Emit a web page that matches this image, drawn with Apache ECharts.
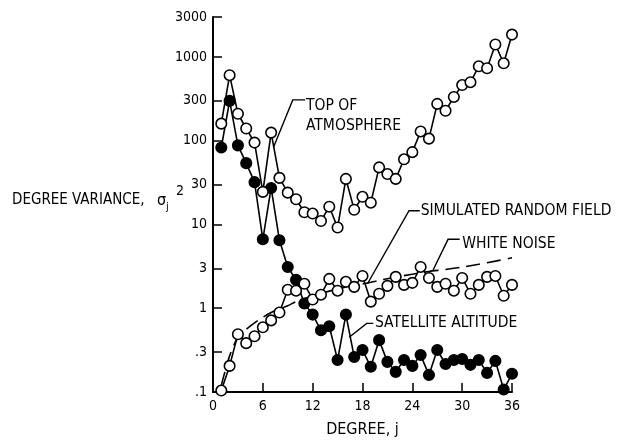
<!DOCTYPE html>
<html>
<head>
<meta charset="utf-8">
<script src="https://cdn.jsdelivr.net/npm/echarts@6/dist/echarts.min.js"></script>
<style>
  html, body { margin: 0; padding: 0; background: #fff; }
  #chart { width: 622px; height: 443px; }
</style>
</head>
<body>
<div id="chart"></div>
<script>
// Spherical-harmonic degree j and the degree variances of each field
const degrees = [1, 2, 3, 4, 5, 6, 7, 8, 9, 10, 11, 12, 13, 14, 15, 16, 17, 18,
                 19, 20, 21, 22, 23, 24, 25, 26, 27, 28, 29, 30, 31, 32, 33, 34, 35, 36];

const topOfAtmosphere = [160, 606, 210, 140, 95, 24.5, 125, 36, 24, 20, 14, 13.5,
                         11, 16.3, 9.2, 35, 15, 21.4, 18.2, 48, 40, 35, 60, 73,
                         129, 106, 275, 228, 333, 462, 500, 774, 733, 1408, 840, 1850];

const satelliteAltitude = [83, 299, 88, 54, 32, 6.65, 27.3, 6.47, 3.11, 2.18, 1.14, 0.84,
                           0.545, 0.61, 0.241, 0.84, 0.262, 0.317, 0.2, 0.416, 0.229, 0.174, 0.241, 0.205,
                           0.276, 0.16, 0.317, 0.216, 0.241, 0.248, 0.211, 0.241, 0.169, 0.235, 0.107, 0.165];

const simulatedRandomField = [0.104, 0.205, 0.489, 0.383, 0.463, 0.592, 0.716, 0.89, 1.66, 1.62, 1.96, 1.27,
                              1.45, 2.24, 1.62, 2.07, 1.80, 2.43, 1.2, 1.49, 1.85, 2.37, 1.90, 2.01,
                              3.11, 2.30, 1.80, 1.96, 1.62, 2.30, 1.49, 1.90, 2.37, 2.43, 1.41, 1.90];

const whiteNoiseDegrees = [1, 2, 3, 4, 5, 6, 7, 8, 9, 10, 12, 14, 16, 18, 20, 22, 24, 26, 28, 30, 32, 34, 36];
const whiteNoise = [0.12, 0.27, 0.45, 0.56, 0.67, 0.78, 0.89, 0.98, 1.07, 1.2, 1.4, 1.6,
                    1.8, 1.95, 2.15, 2.35, 2.55, 2.75, 2.9, 3.1, 3.35, 3.65, 4.0];

const xTicks = [0, 6, 12, 18, 24, 30, 36];
const yTicks = [0.1, 0.3, 1, 3, 10, 30, 100, 300, 1000, 3000];
const yTickLabels = ['.1', '.3', '1', '3', '10', '30', '100', '300', '1000', '3000'];

const FONT = "'DejaVu Sans Condensed', 'DejaVu Sans', sans-serif";
const INK = '#000';

function pairs(xs, ys) { return xs.map((x, i) => [x, ys[i]]); }

const chart = echarts.init(document.getElementById('chart'), null, { renderer: 'canvas' });

function markerSeries(name, values, filled) {
  return {
    name: name,
    type: 'line',
    data: pairs(degrees, values),
    symbol: 'circle',
    symbolSize: 10.5,
    showSymbol: true,
    animation: false,
    z: filled ? 3 : 4,
    lineStyle: { color: INK, width: 1.6 },
    itemStyle: { color: filled ? INK : '#fff', borderColor: INK, borderWidth: 1.6 }
  };
}

chart.setOption({
  animation: false,
  backgroundColor: '#fff',
  grid: { left: 213, right: 110, top: 17, bottom: 48, containLabel: false },
  xAxis: {
    type: 'value',
    min: 0, max: 36, interval: 6,
    axisLine: { show: true, lineStyle: { color: INK, width: 2 } },
    axisTick: { show: true, inside: true, length: 9, lineStyle: { color: INK, width: 1.5 },
                customValues: xTicks.slice(1) },
    axisLabel: { show: true, color: INK, fontFamily: FONT, fontSize: 14, margin: 7,
                 customValues: xTicks },
    splitLine: { show: false },
    name: 'DEGREE, j',
    nameLocation: 'middle',
    nameGap: 30,
    nameTextStyle: { color: INK, fontFamily: FONT, fontSize: 16 }
  },
  yAxis: {
    type: 'log',
    logBase: 10,
    min: 0.1, max: 3000,
    axisLine: { show: true, lineStyle: { color: INK, width: 2 } },
    axisTick: { show: true, inside: true, length: 9, lineStyle: { color: INK, width: 1.5 },
                customValues: yTicks.slice(1) },
    axisLabel: {
      show: true, color: INK, fontFamily: FONT, fontSize: 14, margin: 6,
      customValues: yTicks,
      formatter: function (v) {
        const i = yTicks.findIndex(t => Math.abs(t - v) / t < 1e-6);
        return i >= 0 ? yTickLabels[i] : '';
      }
    },
    splitLine: { show: false }
  },
  series: [
    {
      name: 'White noise',
      type: 'line',
      data: pairs(whiteNoiseDegrees, whiteNoise),
      showSymbol: false,
      symbol: 'none',
      smooth: 0.3,
      z: 2,
      lineStyle: { color: INK, width: 1.6, type: [14, 7] }
    },
    markerSeries('Satellite altitude', satelliteAltitude, true),
    markerSeries('Simulated random field', simulatedRandomField, false),
    markerSeries('Top of atmosphere', topOfAtmosphere, false)
  ]
});

// Callout labels, each anchored in data coordinates (degree, variance)
const callouts = [
  { text: 'TOP OF\nATMOSPHERE', at: [11.2, 340], leader: [[11.1, 307], [9.6, 307], [7.3, 84]] },
  { text: 'SIMULATED RANDOM FIELD', at: [25.0, 14.6], leader: [[24.9, 14.6], [23.6, 14.6], [18.6, 1.96]], middle: true },
  { text: 'WHITE NOISE', at: [30.0, 5.8], leader: [[29.7, 6.65], [28.3, 6.65], [26.5, 2.86]], middle: true },
  { text: 'SATELLITE ALTITUDE', at: [19.5, 0.66], leader: [[19.3, 0.66], [18.5, 0.66], [16.4, 0.45]], middle: true }
];

const px = p => chart.convertToPixel({ xAxisIndex: 0, yAxisIndex: 0 }, p);
const graphics = [];
callouts.forEach(c => {
  const a = px(c.at);
  graphics.push({
    type: 'text', x: a[0], y: a[1], silent: true,
    style: { text: c.text, fill: INK, font: '15.5px ' + FONT, lineHeight: 20,
             textAlign: 'left', textVerticalAlign: c.middle ? 'middle' : 'top' }
  });
  graphics.push({
    type: 'polyline', silent: true,
    shape: { points: c.leader.map(px) },
    style: { stroke: INK, lineWidth: 1.4, fill: null }
  });
});

// Vertical-axis title: DEGREE VARIANCE, sigma_j squared
const titleParts = [
  { text: 'DEGREE VARIANCE,', x: 12, y: 200, size: 15 },
  { text: 'σ', x: 157, y: 201, size: 16 },
  { text: 'j', x: 166, y: 207, size: 11 },
  { text: '2', x: 176, y: 191, size: 14 }
];
titleParts.forEach(t => {
  graphics.push({
    type: 'text', x: t.x, y: t.y, silent: true,
    style: { text: t.text, fill: INK, font: t.size + 'px ' + FONT,
             textAlign: 'left', textVerticalAlign: 'middle' }
  });
});

chart.setOption({ graphic: graphics });
</script>
</body>
</html>
